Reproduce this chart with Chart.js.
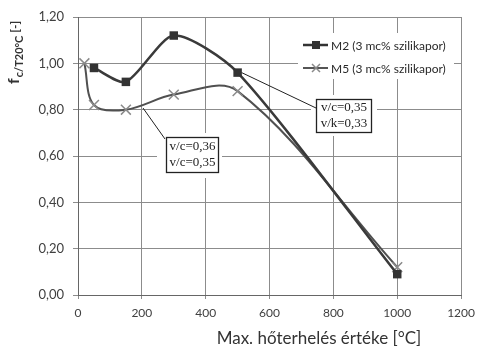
<!DOCTYPE html>
<html>
<head>
<meta charset="utf-8">
<script src="https://cdn.jsdelivr.net/npm/chart.js@4/dist/chart.umd.min.js"></script>
<style>
  html, body { margin: 0; padding: 0; background: #fff; }
  canvas { display: block; }
</style>
</head>
<body>
<canvas id="chart" width="482" height="350"></canvas>
<script>
// Mérési adatok (hőterhelés [°C] -> relatív nyomószilárdság)
const m2Temps = [50, 150, 300, 500, 1000];
const m2Values = [0.98, 0.92, 1.12, 0.96, 0.09];
const m5Temps = [20, 50, 150, 300, 500, 1000];
const m5Values = [1.00, 0.82, 0.80, 0.865, 0.88, 0.12];
const seriesNames = ['M2 (3 mc% szilikapor)', 'M5 (3 mc% szilikapor)'];
const xTicks = [0, 200, 400, 600, 800, 1000, 1200];
const yTicks = [0, 0.2, 0.4, 0.6, 0.8, 1.0, 1.2];
const xTitle = 'Max. hőterhelés értéke [°C]';
const notes = [
    { lines: ['v/c=0,35', 'v/k=0,33'], anchor: [500, 0.96] },
    { lines: ['v/c=0,36', 'v/c=0,35'], anchor: [200, 0.815] }
];

const toPoints = (xs, ys) => xs.map((x, i) => ({ x: x, y: ys[i] }));
const sansFont = 'Lato, "Open Sans", sans-serif';

// Feliratok, jelmagyarázat és megjegyzés-dobozok rajzolása
const decorations = {
    id: 'decorations',
    beforeDatasetsDraw(chart) {
        const ctx = chart.ctx;
        ctx.save();
        ctx.fillStyle = '#fff';
        ctx.fillRect(298, 33, 156, 46); // jelmagyarázat háttere
        ctx.fillRect(311, 95, 66, 41);
        ctx.fillRect(157, 133, 65, 45);
        ctx.restore();
    },
    afterDatasetsDraw(chart) {
        const ctx = chart.ctx;
        const xs = chart.scales.x, ys = chart.scales.y;
        ctx.save();

        // jelmagyarázat
        ctx.font = '12px ' + sansFont;
        ctx.textBaseline = 'middle';
        const rows = [45, 68];
        rows.forEach((y, i) => {
            ctx.strokeStyle = i === 0 ? '#333' : '#555';
            ctx.lineWidth = i === 0 ? 2.5 : 2;
            ctx.beginPath(); ctx.moveTo(303, y); ctx.lineTo(328, y); ctx.stroke();
            if (i === 0) {
                ctx.fillStyle = '#333';
                ctx.fillRect(312, y - 4, 8, 8);
            } else {
                ctx.strokeStyle = '#8a8a8a'; ctx.lineWidth = 1.5;
                ctx.beginPath();
                ctx.moveTo(312, y - 4); ctx.lineTo(320, y + 4);
                ctx.moveTo(320, y - 4); ctx.lineTo(312, y + 4);
                ctx.stroke();
            }
            ctx.fillStyle = '#2a2a2a';
            ctx.textAlign = 'left';
            ctx.fillText(seriesNames[i], 331, y + 1);
        });

        // megjegyzés-dobozok vezetővonallal
        const boxes = [[316, 99, 55, 33], [166, 137, 52, 35]];
        const ends = [[316, 108], [165, 139]];
        const starts = [[xs.getPixelForValue(notes[0].anchor[0]) + 4, ys.getPixelForValue(notes[0].anchor[1])],
                        [143, 108]];
        notes.forEach((n, i) => {
            const b = boxes[i];
            ctx.strokeStyle = '#222'; ctx.lineWidth = 1;
            ctx.beginPath(); ctx.moveTo(starts[i][0], starts[i][1]); ctx.lineTo(ends[i][0], ends[i][1]); ctx.stroke();
            ctx.fillStyle = '#fff';
            ctx.fillRect(b[0], b[1], b[2], b[3]);
            ctx.strokeStyle = '#222'; ctx.lineWidth = 1.3;
            ctx.strokeRect(b[0] + 0.5, b[1] + 0.5, b[2], b[3]);
            ctx.fillStyle = '#222';
            ctx.font = '13px "Liberation Serif", serif';
            ctx.textAlign = 'center';
            ctx.textBaseline = 'middle';
            ctx.fillText(n.lines[0], b[0] + b[2] / 2 + 0.5, b[1] + b[3] * 0.27);
            ctx.fillText(n.lines[1], b[0] + b[2] / 2 + 0.5, b[1] + b[3] * 0.74);
        });

        // x tengely címe
        ctx.fillStyle = '#333';
        ctx.font = '17px ' + sansFont;
        ctx.textAlign = 'center';
        ctx.textBaseline = 'middle';
        ctx.fillText(xTitle, 319, 339);

        // y tengely címe (alsó index)
        ctx.translate(14, 84);
        ctx.rotate(-Math.PI / 2);
        ctx.textAlign = 'left';
        ctx.textBaseline = 'alphabetic';
        ctx.font = 'bold 16px ' + sansFont;
        ctx.fillText('f', 0, 5);
        let w = ctx.measureText('f').width;
        ctx.font = 'bold 11px ' + sansFont;
        ctx.fillText('c/T20°C', w + 1, 9);
        w += 1 + ctx.measureText('c/T20°C').width;
        ctx.font = 'bold 12px ' + sansFont;
        ctx.fillText(' [-]', w, 5);
        ctx.restore();
    }
};

new Chart(document.getElementById('chart'), {
    type: 'line',
    data: {
        datasets: [{
            label: seriesNames[0],
            data: toPoints(m2Temps, m2Values),
            borderColor: '#3a3a3a',
            borderWidth: 2.5,
            tension: 0.25,
            pointStyle: 'rect',
            pointRadius: 6,
            pointBackgroundColor: '#333',
            pointBorderColor: '#333',
            pointBorderWidth: 0
        }, {
            label: seriesNames[1],
            data: toPoints(m5Temps, m5Values),
            borderColor: '#505050',
            borderWidth: 2,
            tension: 0.35,
            pointStyle: 'crossRot',
            pointRadius: 7,
            pointBorderColor: '#8a8a8a',
            pointBorderWidth: 1.5
        }]
    },
    options: {
        responsive: false,
        animation: false,
        devicePixelRatio: 1,
        layout: { padding: { left: 0, right: 16, top: 17, bottom: 0 } },
        plugins: { legend: { display: false }, tooltip: { enabled: false } },
        scales: {
            x: {
                type: 'linear',
                min: 0, max: 1200,
                afterBuildTicks: s => { s.ticks = xTicks.map(v => ({ value: v })); },
                afterFit: s => { s.height = 55; },
                grid: { color: '#8c8c8c', lineWidth: 1, tickLength: 4, drawTicks: true },
                border: { color: '#666', width: 1 },
                ticks: {
                    color: '#404040', font: { family: sansFont, size: 12 }, padding: 7, maxRotation: 0,
                    callback: v => String(v)
                }
            },
            y: {
                min: 0, max: 1.2,
                afterBuildTicks: s => { s.ticks = yTicks.map(v => ({ value: v })); },
                afterFit: s => { s.width = 78; },
                grid: { color: '#8c8c8c', lineWidth: 1, tickLength: 5 },
                border: { color: '#666', width: 1 },
                ticks: {
                    color: '#404040', font: { family: sansFont, size: 13 }, padding: 9,
                    callback: v => v.toFixed(2).replace('.', ',')
                }
            }
        }
    },
    plugins: [decorations]
});
</script>
</body>
</html>
